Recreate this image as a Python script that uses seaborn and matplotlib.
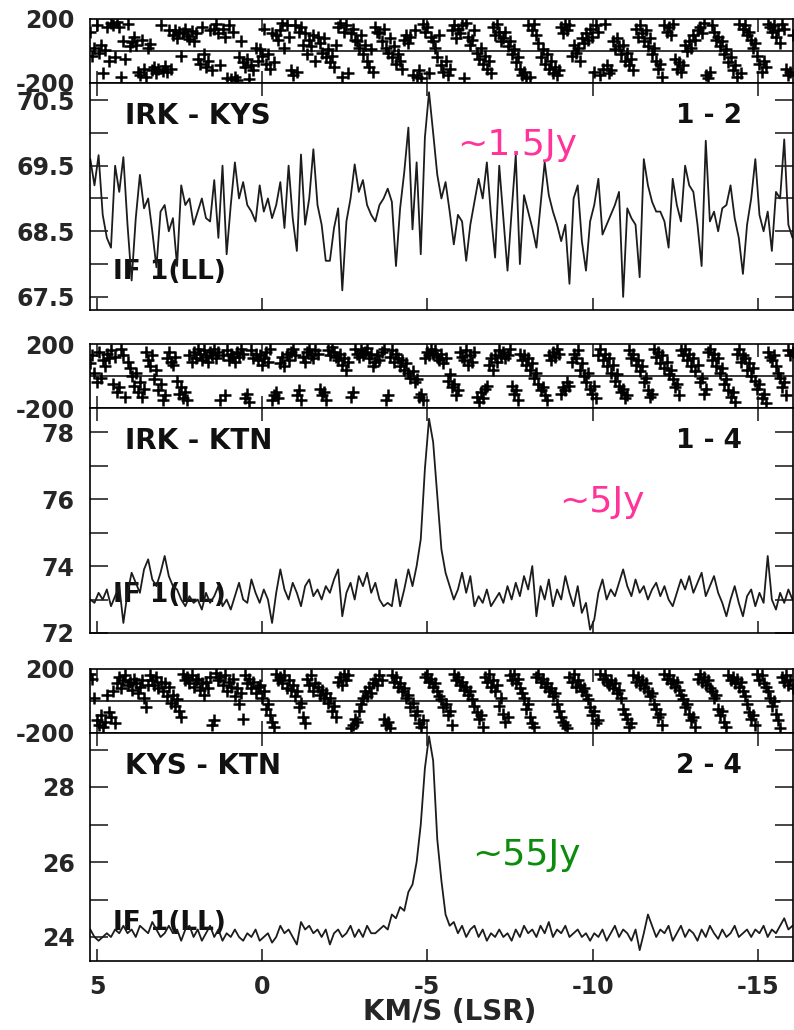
import numpy as np
import pandas as pd
import matplotlib
matplotlib.use("Agg")
import matplotlib.pyplot as plt
import seaborn as sns

# velocity channels (km/s LSR) of the amplitude spectra
v_first = 5.2
v_step = -0.125
# the phase points are plotted on a finer channel grid
ph_first = 5.2
ph_step = -0.0625

# amplitude spectra (one value per channel)
amp_irk_kys = [
    69.60, 69.20, 69.66, 68.75, 68.40, 68.25, 69.50, 69.10, 69.63, 68.60,
    67.75, 68.70, 69.36, 68.85, 69.00, 68.50, 67.95, 68.80, 68.90, 68.50,
    68.70, 67.97, 69.20, 68.90, 69.00, 68.60, 68.80, 69.00, 68.70, 68.65,
    69.28, 68.40, 69.50, 68.15, 68.90, 69.55, 69.00, 69.25, 68.90, 68.80,
    68.65, 69.20, 68.80, 69.00, 68.70, 68.90, 69.25, 68.55, 69.50, 68.70,
    68.20, 69.67, 68.60, 69.00, 69.75, 68.90, 68.60, 68.05, 68.05, 68.55,
    68.85, 67.60, 68.65, 69.00, 69.52, 69.10, 69.28, 68.90, 68.75, 68.65,
    68.90, 69.00, 69.15, 68.95, 67.97, 68.85, 69.40, 70.08, 68.53, 69.55,
    68.15, 69.93, 70.62, 70.00, 69.36, 69.00, 69.25, 68.80, 68.30, 68.75,
    68.65, 68.05, 68.60, 68.95, 69.30, 69.00, 69.55, 68.75, 68.10, 69.50,
    68.70, 67.90, 68.80, 69.66, 68.00, 69.05, 68.80, 68.55, 68.25, 68.90,
    69.55, 69.05, 68.80, 68.60, 68.35, 68.60, 67.70, 69.00, 69.20, 68.35,
    67.90, 68.65, 68.90, 69.30, 68.45, 68.60, 68.75, 68.90, 69.10, 67.50,
    68.85, 68.70, 68.60, 67.80, 69.60, 69.20, 68.95, 68.80, 68.80, 68.65,
    68.25, 69.30, 68.90, 68.65, 69.50, 69.20, 69.10, 68.60, 67.97, 69.88,
    68.65, 68.80, 68.50, 68.85, 68.90, 69.20, 68.70, 68.40, 67.85, 68.60,
    69.00, 69.60, 68.75, 68.50, 68.80, 68.20, 69.10, 69.00, 69.90, 68.60,
    68.40,
]
amp_irk_ktn = [
    73.0, 72.9, 73.2, 73.0, 73.3, 72.8, 73.1, 73.4, 72.3, 73.2,
    73.8, 73.5, 73.2, 73.9, 74.2, 73.6, 73.4, 73.8, 74.3, 73.7,
    73.4, 73.3, 73.0, 72.8, 73.1, 72.9, 73.0, 72.7, 73.2, 72.9,
    73.1, 73.4, 72.8, 73.0, 72.7, 73.1, 73.5, 73.0, 72.9, 73.6,
    73.2, 72.9, 73.3, 73.0, 72.3, 73.2, 73.9, 73.3, 73.0, 73.5,
    73.2, 72.8, 73.4, 73.6, 73.1, 73.3, 73.0, 73.4, 73.2, 73.6,
    73.9, 72.5, 73.2, 73.5, 73.0, 73.7, 73.4, 73.8, 73.2, 73.5,
    73.0, 72.8, 72.9, 72.8, 73.6, 72.8, 73.3, 73.9, 73.4, 74.0,
    74.8, 76.9, 78.4, 77.7, 76.1, 74.5, 73.8, 73.4, 73.0, 73.3,
    73.8, 73.2, 73.7, 72.8, 73.1, 72.9, 73.3, 72.8, 73.0, 73.2,
    72.9, 73.4, 73.0, 73.5, 73.1, 73.7, 73.3, 74.0, 72.5, 73.4,
    73.0, 73.6, 72.8, 73.3, 73.0, 73.7, 73.2, 72.8, 73.4, 72.6,
    72.9, 72.1, 72.4, 73.2, 73.6, 73.0, 73.3, 73.1, 73.5, 73.9,
    73.4, 73.1, 73.6, 73.2, 73.4, 73.0, 73.3, 73.5, 73.1, 73.4,
    73.0, 72.8, 73.2, 73.6, 73.3, 73.7, 73.2, 73.5, 73.8, 73.1,
    73.4, 73.7, 73.2, 72.9, 72.5, 73.0, 73.4, 72.9, 72.5, 73.1,
    73.3, 72.8, 73.2, 72.9, 74.3, 73.0, 72.7, 73.2, 72.9, 73.3,
    73.0,
]
amp_kys_ktn = [
    24.2, 24.0, 23.9, 24.0, 24.1, 24.0, 24.2, 24.1, 24.3, 24.1,
    24.2, 24.0, 24.3, 24.2, 24.1, 24.4, 24.2, 24.0, 24.1, 24.3,
    24.1, 24.2, 23.9, 24.2, 24.3, 24.0, 24.2, 23.9, 24.1, 24.3,
    24.0, 24.2, 23.9, 24.1, 24.0, 24.2, 24.0, 23.9, 24.1, 24.0,
    24.2, 23.9, 24.0, 24.1, 23.85, 24.0, 24.3, 24.1, 24.2, 24.0,
    23.8, 24.4, 24.2, 24.3, 24.1, 24.2, 24.0, 24.2, 23.8, 24.1,
    24.2, 24.0, 24.1, 24.3, 24.0, 24.2, 24.0, 24.3, 24.1, 24.1,
    24.2, 24.3, 24.2, 24.6, 24.5, 24.8, 24.7, 25.2, 25.4, 26.0,
    27.0, 28.5, 29.35, 28.7, 26.6, 25.5, 24.6, 24.3, 24.4, 24.1,
    24.3, 24.0, 24.2, 24.3, 24.0, 24.2, 23.9, 24.1, 24.0, 24.2,
    24.0, 24.1, 23.9, 24.2, 24.0, 24.3, 24.1, 24.2, 24.0, 24.3,
    24.1, 24.4, 24.0, 24.2, 24.1, 24.3, 24.0, 24.1, 24.2, 24.0,
    24.1, 23.9, 24.1, 24.0, 24.2, 23.9, 24.1, 24.3, 24.0, 24.2,
    24.1, 23.9, 24.2, 23.65, 24.1, 24.6, 24.3, 24.0, 24.2, 24.1,
    24.3, 23.9, 24.1, 24.3, 24.0, 24.2, 24.1, 23.9, 24.2, 24.0,
    24.3, 24.1, 23.95, 24.2, 24.0, 24.1, 24.3, 24.0, 24.1, 24.2,
    24.0, 24.2, 24.1, 24.3, 24.0, 24.2, 24.1, 24.3, 24.5, 24.2,
    24.3,
]

# visibility phases (deg) on the finer grid
phase_irk_kys = [
    120, -30, 20, 165, -10, 40, -140, 5, 150, -60,
    175, 160, -40, 180, 150, -165, 60, -50, 170, 30,
    55, 90, 40, -130, -150, 70, -110, -160, 20, 45,
    -120, -100, -140, -115, 160, -125, -95, -130, 130, -110,
    100, 130, 80, 120, -30, 110, 140, 95, 75, 125,
    60, 115, -50, -80, 150, -20, -100, -60, 130, -120,
    140, 170, 110, -90, 135, 90, -170, 160, -175, 120,
    -160, -180, -40, 60, -70, -100, -50, -175, -90, -120,
    20, -60, 10, -30, 140, -80, -20, -110, 110, -70,
    100, 70, 130, 175, 20, 165, 90, -120, -150, 160,
    -130, 120, 150, 40, 110, -20, 70, 30, 100, -60,
    90, 50, -10, 80, -40, 10, -70, -30, -100, 40,
    150, 175, -160, 120, 160, -140, 110, 140, 70, 60,
    20, 100, -20, 40, -60, -100, 10, -130, 150, 120,
    110, 60, 140, 20, -10, 80, -40, 30, -80, -20,
    -60, -110, 70, 100, 50, 90, -150, 130, -160, -120,
    -170, 170, 120, 150, -140, 90, 60, 20, -40, 100,
    -90, -130, -60, -150, -110, 130, 160, 80, 140, 110,
    160, -170, 175, 90, 40, 70, 130, -10, -50, 20,
    -80, -30, -110, -60, -140, 150, 100, 170, 120, 60,
    80, 120, 30, 60, -20, 10, -70, -40, -110, -150,
    -130, -170, 160, -160, 130, 170, 100, 50, -40, 10,
    -80, -20, -110, -60, -140, -100, -150, -120, 150, 110,
    170, 130, 160, -30, 40, -10, 20, -60, 80, 50,
    110, 70, 140, 90, -130, 160, 120, -150, -110, 170,
    -90, -140, -120, 60, 10, 80, 30, -20, 40, -60,
    -10, -90, -50, -120, 140, 90, 160, 110, 60, 130,
    30, 80, -20, 20, -60, -110, -80, -160, 160, 120,
    150, 100, 170, -50, -110, -70, -130, -90, 40, 0,
    60, 20, 100, 70, 130, 150, 110, 175, -150, -170,
    -130, 160, 120, 70, 90, 30, 60, -20, 10, -70,
    -40, -120, -90, -160, 170, -140, 140, 160, 100, 120,
    70, 20, 50, -30, -80, -130, -60, -100, 170, 150,
    120, 160, 90, 130, 50, 170, 140, -110, -150, -130,
    100,
]
phase_irk_ktn = [
    80, 130, 20, -40, 150, -10, 100, 60, 140, 110,
    160, -50, 120, -100, -70, 170, 130, -130, 90, 50,
    0, -60, 20, -100, -40, -130, -80, 150, 100, 60,
    130, -20, 40, -90, -50, -150, -120, 110, 150, 90,
    70, 120, -30, -110, -70, -140, -100, -150, 130, 90,
    150, 110, 170, 140, 100, 160, 120, 90, 150, 130,
    170, 110, 150, -150, 130, -120, 160, 100, 140, 120,
    90, 150, 120, 170, 140, -140, -110, -160, 160, 110,
    140, 100, 130, 70, 110, 150, 90, 170, -150, -120,
    -100, -140, 80, 120, 60, 140, 100, 150, 170, 130,
    -120, -90, -150, 120, 90, 150, 170, 130, 110, 160,
    140, -80, -120, -100, -150, 160, 130, 180, 150, 120,
    100, 140, 70, 110, 40, 90, -130, -100, 170, 140,
    120, 160, 130, 150, 175, 110, 140, 60, 90, 130,
    100, 150, 170, -150, -120, 120, 160, 90, 140, 110,
    60, 100, 40, 80, 20, -10, 30, -40, -20, -130,
    -110, -150, 110, 150, 130, 170, 140, 160, 120, 100,
    140, 80, 110, -30, 10, -70, -50, -120, -90, 150,
    120, 100, 160, 70, 130, 90, 150, -130, -160, -100,
    -140, -80, -60, 70, 110, 40, 130, 90, 160, 120,
    150, 110, 130, 170, -60, -110, -90, -150, 140, 100,
    130, 70, 110, 40, 80, -10, 20, -50, -90, -70,
    -120, -150, 130, 100, 150, 120, 170, 140, -110, -70,
    -90, -40, -60, 90, 140, 110, 160, 40, 80, 0,
    -40, 20, -80, -110, -60, -140, 130, 170, 100, 140,
    60, 110, 20, 70, -30, 10, -60, -100, -80, -140,
    -120, 160, 110, 140, 70, 100, 30, 60, -40, -10,
    -90, -130, -110, 170, 120, 150, 80, 130, 50, 90,
    10, 40, -20, -70, -50, -120, 160, 130, 170, 100,
    140, 60, 110, 30, 70, -40, -10, -110, -80, 150,
    170, 100, 140, 60, 110, 20, 50, -50, -20, -90,
    -130, -100, -160, 140, 170, 90, 130, 110, 40, 80,
    0, 50, -30, -80, -50, -140, -110, -170, 150, 120,
    100, 130, 60, 20, -10, -70, -40, -120, 160, 130,
    150,
]
phase_kys_ktn = [
    170, 140, 20, -120, -150, -90, -160, -130, 40, -70,
    -100, 60, -140, 110, 150, 80, 130, 160, 100, 120,
    70, 140, 110, 50, 90, 130, 20, -40, 100, 160,
    130, 100, 150, 80, 120, 60, 110, 30, 90, -10,
    40, -30, 10, -60, -100, 170, 130, 150, 110, 160,
    90, 130, 140, 70, 110, 40, 120, 80, 150, -150,
    -120, 175, 130, 150, 100, 160, 60, 120, 90, 140,
    30, 80, -20, 50, -110, 160, 110, 140, 80, 120,
    50, 90, 100, 20, 60, -50, -20, -90, -130, -160,
    170, 130, 150, 110, 160, 80, 130, 70, 100, 30,
    60, -40, -10, -100, -140, 140, 100, 160, 60, 110,
    90, 40, 70, 20, 50, -10, 20, -60, -30, -100,
    120, 150, 100, 170, 130, 160, -170, -150, -110, -130,
    -60, -20, 20, 60, 30, 90, 50, 110, 140, 100,
    160, 130, -110, -150, -130, -170, 160, 120, 150, 90,
    110, 60, 80, 20, 40, -40, -10, -90, -60, -140,
    -160, -120, 150, 170, 120, 140, 90, 110, 60, 30,
    10, -40, -20, -90, -60, -150, 170, 130, 150, 100,
    120, 70, 90, 40, 60, 10, -30, -70, -110, -90,
    -160, 150, 120, 170, 90, 130, 60, 100, -30, 20,
    -80, -130, -100, 160, 130, 170, 110, 140, 80, 50,
    20, -50, -20, -100, -140, -160, 150, 170, 120, 140,
    90, 110, 60, 80, 30, 50, -20, -60, -100, -130,
    -150, -170, 150, 120, 170, 90, 130, 100, 60, 80,
    40, 10, -40, -90, -60, -140, -120, 170, 140, 160,
    120, 100, 130, 80, 110, 50, 70, 20, -50, -80,
    -110, -160, -140, 160, 120, 150, 100, 130, 80, 110,
    60, 30, 50, -20, -50, -100, -80, -150, 170, 140,
    160, 110, 130, 90, 120, 70, 40, 10, -40, -20,
    -80, -120, -100, -160, 140, 170, 120, 150, 100, 130,
    80, 60, 20, 40, -50, -90, -60, -130, -160, 160,
    130, 150, 110, 140, 90, 120, 60, 30, -20, -70,
    -110, -90, -150, 170, 130, 160, 110, 90, 60, 20,
    -30, 0, -80, -120, -170, 150, 120, 160, 100, 130,
    80,
]

baselines = ["IRK - KYS", "IRK - KTN", "KYS - KTN"]
pairs = ["1 - 2", "1 - 4", "2 - 4"]
flux_notes = ["~1.5Jy", "~5Jy", "~55Jy"]
flux_colors = ["#ff3399", "#ff3399", "#0c8c0c"]
amp_ylims = [(67.3, 70.76), (72.0, 78.72), (23.36, 29.44)]
amp_major = [[67.5, 68.5, 69.5, 70.5], [72, 74, 76, 78], [24, 26, 28]]
amp_major_labels = [["67.5", "68.5", "69.5", "70.5"], ["72", "74", "76", "78"], ["24", "26", "28"]]
amp_minor = [[68, 69, 70], [73, 75, 77], [25, 27, 29]]
vel_ticks = [5, 0, -5, -10, -15]
vel_tick_labels = ["5", "0", "-5", "-10", "-15"]

amps = [amp_irk_kys, amp_irk_ktn, amp_kys_ktn]
phases = [phase_irk_kys, phase_irk_ktn, phase_kys_ktn]

sns.set_style("ticks")
plt.rcParams["font.family"] = ["DejaVu Sans"]
plt.rcParams["font.weight"] = "bold"

fig = plt.figure(figsize=(7.94, 10.30), dpi=100, facecolor="white")

left = 90 / 794
width = 702.5 / 794
H = 1030
# (phase top px, amp top px, amp bottom px) for each panel
rows = [(19, 83, 310), (344, 408, 633), (669, 733, 961)]

# position of flux notes (axes fraction, baseline)
note_xy = [(0.523, 0.683), (0.668, 0.538), (0.544, 0.421)]

tick_font = {"fontsize": 17, "fontweight": "bold"}

for k in range(3):
    p_top, a_top, a_bot = rows[k]
    vel = v_first + v_step * np.arange(len(amps[k]))
    df_amp = pd.DataFrame({"vel": vel, "amp": amps[k]})
    ph_vel = ph_first + ph_step * np.arange(len(phases[k]))
    df_ph = pd.DataFrame({"vel": ph_vel, "phase": phases[k]})

    axp = fig.add_axes([left, 1 - a_top / H, width, (a_top - p_top) / H])
    axa = fig.add_axes([left, 1 - a_bot / H, width, (a_bot - a_top) / H])

    # phase panel
    sns.scatterplot(data=df_ph, x="vel", y="phase", ax=axp, marker="+", s=70,
                    color="black", linewidth=1.8, legend=False, zorder=3)
    axp.axhline(0, color="black", lw=1.1, zorder=2)
    axp.set_ylim(-200, 200)
    axp.set_yticks([-200, 200])
    axp.set_yticklabels(["-200", "200"], **tick_font)
    axp.tick_params(axis="y", length=0, pad=11)

    # amplitude panel
    sns.lineplot(data=df_amp, x="vel", y="amp", ax=axa, color="#1c1c1c",
                 linewidth=1.3, sort=False, zorder=2)
    axa.set_ylim(*amp_ylims[k])
    axa.set_yticks(amp_major[k])
    axa.set_yticklabels(amp_major_labels[k], **tick_font)
    axa.set_yticks(amp_minor[k], minor=True)
    axa.tick_params(axis="y", which="both", direction="in", left=True, right=True,
                    length=13, width=1.2, pad=11)

    for ax in (axp, axa):
        ax.set_xlim(5.21, -16.05)
        ax.set_xticks(vel_ticks)
        ax.tick_params(axis="x", direction="in", top=True, bottom=True,
                       length=9, width=1.2, labelbottom=False, pad=10)
        ax.set_xlabel("")
        ax.set_ylabel("")
        for s in ax.spines.values():
            s.set_visible(True)
            s.set_linewidth(1.2)
            s.set_color("black")

    axa.text(0.05, 0.855, baselines[k], transform=axa.transAxes, fontsize=20,
             fontweight="bold", ha="left", va="center", color="#111111")
    axa.text(0.834, 0.855, pairs[k], transform=axa.transAxes, fontsize=19,
             fontweight="bold", ha="left", va="center", color="#111111")
    axa.text(0.033, 0.167, "IF 1(LL)", transform=axa.transAxes, fontsize=19,
             fontweight="bold", ha="left", va="center", color="#111111", zorder=1)
    axa.text(note_xy[k][0], note_xy[k][1], flux_notes[k], transform=axa.transAxes,
             fontsize=26, fontweight="normal", ha="left", va="baseline",
             color=flux_colors[k])

    if k == 2:
        axa.set_xticklabels(vel_tick_labels, **tick_font)
        axa.tick_params(axis="x", labelbottom=True)

fig.text(450 / 794, 1 - 1012 / H, "KM/S (LSR)", fontsize=20, fontweight="bold",
         ha="center", va="center")

plt.savefig("out.png", dpi=100, facecolor="white")
